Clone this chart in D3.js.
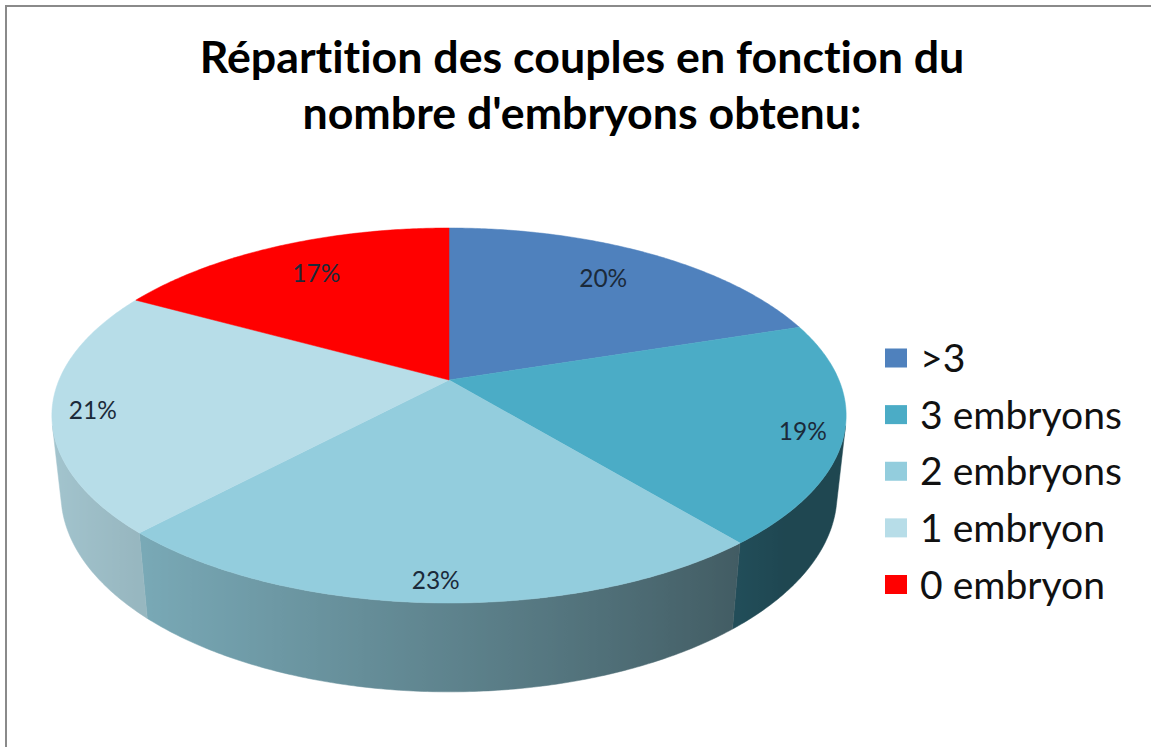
<!DOCTYPE html>
<html>
<head>
<meta charset="utf-8">
<script src="https://cdn.jsdelivr.net/npm/d3@7"></script>
<style>
  html, body { margin: 0; padding: 0; background: #fff; }
  svg { display: block; }
  text { font-variant-ligatures: none; }
</style>
</head>
<body>
<svg id="chart" width="1151" height="747"></svg>
<script>
const titleLines = ["Répartition des couples en fonction du", "nombre d'embryons obtenu:"];
const categories = [">3", "3 embryons", "2 embryons", "1 embryon", "0 embryon"];
const percents = [20, 19, 23, 21, 17];
const sliceColors = ["#4f81bd", "#4bacc6", "#93cddd", "#b7dde8", "#ff0000"];

const W = 1151, H = 747;
const svg = d3.select("#chart");
const defs = svg.append("defs");

// perspective camera for the 3D disc
const CX = 449, CY = 380, K = 1825, DIST = 4.68;
const SIN_T = 0.4636, COS_T = 0.886, DEPTH = 0.229;

// theta: clockwise from the far (top) point, r: 0..1, yw: 0 top face, -DEPTH bottom
function project(theta, r, yw) {
  const X = r * Math.sin(theta);
  const Zw = -r * Math.cos(theta);
  const yc = yw * COS_T - Zw * SIN_T;
  const d = DIST - Zw * COS_T - yw * SIN_T;
  return [CX + K * X / d, CY - K * yc / d];
}

function fitFont(sel, target) {
  sel.style("font-size", "100px");
  const len = sel.node().getComputedTextLength();
  const size = 100 * target / len;
  sel.style("font-size", size + "px");
  return size;
}

// light on the side wall comes from the left, darker toward the right
function shade(theta) {
  const deg = theta * 180 / Math.PI;
  return Math.max(0.41, 0.6 + 0.29 * Math.cos((deg - 262) * Math.PI / 180));
}

const color = d3.scaleOrdinal().domain(categories).range(sliceColors);
const pie = d3.pie().sort(null).value(d => d.value);
const arcs = pie(categories.map((c, i) => ({ name: c, value: percents[i] })));

// border (left and top edges of the chart frame)
svg.append("path")
  .attr("d", `M6,${H} V6 H${W}`)
  .attr("fill", "none")
  .attr("stroke", "#8a8a8a")
  .attr("stroke-width", 2);

// title
const title = svg.append("g")
  .attr("font-family", "Lato, 'Open Sans', sans-serif")
  .attr("font-weight", "bold")
  .attr("fill", "#000")
  .attr("text-anchor", "middle");

const t1 = title.append("text").attr("x", 582).attr("y", 73).text(titleLines[0]);
const titleSize = fitFont(t1, 765);
title.append("text").attr("x", 582).attr("y", 129)
  .style("font-size", titleSize + "px")
  .text(titleLines[1]);

const pieG = svg.append("g");
const sideG = pieG.append("g");

// visible wall: outward normal faces the camera between these angles
const A0 = Math.acos(-1 / (DIST * COS_T)); // right silhouette
const A1 = 2 * Math.PI - A0;               // left silhouette

arcs.forEach((a, i) => {
  const t0 = Math.max(a.startAngle, A0);
  const t1 = Math.min(a.endAngle, A1);
  if (t1 <= t0) return;
  const n = Math.max(6, Math.ceil((t1 - t0) / 0.01));
  const ts = d3.range(n + 1).map(k => t0 + (t1 - t0) * k / n);
  const top = ts.map(t => project(t, 1, 0));
  const bottom = ts.map(t => project(t, 1, -DEPTH)).reverse();
  const pts = top.concat(bottom);

  const xs = top.map(p => p[0]);
  const xMin = d3.min(xs), xMax = d3.max(xs);
  const base = d3.rgb(color(a.data.name));
  const gid = "side" + i;
  const grad = defs.append("linearGradient")
    .attr("id", gid)
    .attr("gradientUnits", "userSpaceOnUse")
    .attr("x1", xMin).attr("y1", 0)
    .attr("x2", xMax).attr("y2", 0);
  const stops = ts.map((t, k) => {
    const f = shade(t);
    return {
      offset: (xMax - xMin) > 0 ? (top[k][0] - xMin) / (xMax - xMin) : 0,
      c: d3.rgb(base.r * f, base.g * f, base.b * f).formatHex()
    };
  }).sort((p, q) => p.offset - q.offset);
  grad.selectAll("stop")
    .data(stops)
    .join("stop")
    .attr("offset", d => d.offset)
    .attr("stop-color", d => d.c);

  sideG.append("path")
    .attr("d", "M" + pts.map(p => p.join(",")).join("L") + "Z")
    .attr("fill", `url(#${gid})`)
    .attr("stroke", `url(#${gid})`)
    .attr("stroke-width", 0.5);
});

// top face
function topPath(a) {
  const pts = [project(0, 0, 0)];
  const n = Math.max(8, Math.ceil((a.endAngle - a.startAngle) / 0.01));
  for (let i = 0; i <= n; i++) {
    const t = a.startAngle + (a.endAngle - a.startAngle) * i / n;
    pts.push(project(t, 1, 0));
  }
  return "M" + pts.map(p => p.join(",")).join("L") + "Z";
}

pieG.append("g")
  .selectAll("path")
  .data(arcs)
  .join("path")
  .attr("d", topPath)
  .attr("fill", d => color(d.data.name))
  .attr("stroke", d => color(d.data.name))
  .attr("stroke-width", 0.5);

// data labels
const labels = pieG.append("g")
  .attr("font-family", "Lato, 'Open Sans', sans-serif")
  .attr("fill", "#1b2a3a")
  .attr("text-anchor", "middle")
  .selectAll("text")
  .data(arcs)
  .join("text")
  .attr("transform", d => {
    const mid = (d.startAngle + d.endAngle) / 2;
    const near = -Math.cos(mid) >= 0;
    const p = project(mid, near ? 0.9 : 0.75, 0);
    return `translate(${p[0]},${p[1] + (near ? 4 : -3)})`;
  })
  .attr("dy", "0.36em")
  .text(d => d.data.value + "%");

const labelSize = fitFont(labels.filter((d, i) => i === 0), 48);
labels.style("font-size", labelSize + "px");

// legend
const legendY = d3.scalePoint().domain(categories).range([358, 584.5]);
const legend = svg.append("g")
  .attr("font-family", "Lato, 'Open Sans', sans-serif");

const items = legend.selectAll("g")
  .data(categories)
  .join("g")
  .attr("transform", d => `translate(885,${legendY(d)})`);

items.append("rect")
  .attr("x", 0)
  .attr("y", -9.5)
  .attr("width", 22)
  .attr("height", 19)
  .attr("fill", d => color(d));

const legendText = items.append("text")
  .attr("x", 35)
  .attr("dy", "0.36em")
  .attr("fill", "#111")
  .text(d => d);

const legendSize = fitFont(legendText.filter(d => d === "3 embryons"), 202);
legendText.style("font-size", legendSize + "px");
</script>
</body>
</html>
